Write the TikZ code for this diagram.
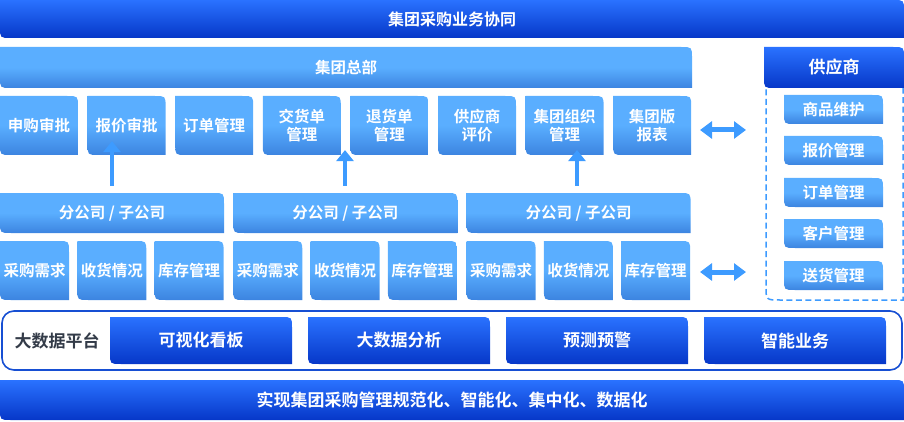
\documentclass[tikz,border=0pt]{standalone}
\usepackage{fontspec}
\setmainfont{Noto Sans CJK SC Bold}
\usetikzlibrary{arrows.meta,calc}
\definecolor{lt}{HTML}{5AAEFF}
\definecolor{lb}{HTML}{3C84E0}
\definecolor{dt}{HTML}{2A72FF}
\definecolor{db}{HTML}{0637C8}
\definecolor{arr}{HTML}{3D9BFF}
\definecolor{lab}{HTML}{333B48}
\tikzset{
  light/.style={top color=lt,bottom color=lb,middle color=lt},
  dark/.style={top color=dt,bottom color=db},
  txt/.style={text=white,font=\fontsize{15.5}{18}\selectfont,align=center,inner sep=0pt},
  uparr/.style={draw=arr,line width=4.5pt,-{Triangle[width=17pt,length=11pt]}},
  dbl/.style={draw=arr,line width=5pt,{Triangle[width=17pt,length=12pt]}-{Triangle[width=17pt,length=12pt]}},
}
\newcommand\bx[7]{%
\path[#6] (#2,#3) -- ({#4-11},#3) .. controls (#4,#3) .. (#4,{#3+11}) -- (#4,#5) -- ({#2+11},#5) .. controls (#2,#5) .. (#2,{#5-11}) -- cycle;
\node[txt] (#1) at ({(#2+#4)/2},{(#3+#5)/2}) {#7};}
\begin{document}
\begin{tikzpicture}[x=1pt,y=-1pt]
\useasboundingbox (0,0) rectangle (904,422);
\bx{title}{0}{0}{904}{38}{dark}{\fontsize{16}{18}\selectfont 集团采购业务协同}
\bx{hq}{0}{47}{692}{88}{light}{集团总部}
\foreach \i/\t in {1/申购审批,2/报价审批,3/订单管理,4/交货单\\管理,5/退货单\\管理,6/供应商\\评价,7/集团组织\\管理,8/集团版\\报表}{
  \pgfmathsetmacro\xa{(\i-1)*87.6}
  \bx{t\i}{\xa}{96}{\xa+78}{155}{light}{\t}
}
\foreach \g in {1,2,3}{
  \pgfmathsetmacro\xa{(\g-1)*233.3}
  \bx{g\g}{\xa}{193}{\xa+224}{233}{light}{分公司 / 子公司}
  \foreach \j/\t in {0/采购需求,1/收货情况,2/库存管理}{
    \pgfmathsetmacro\xb{\xa+\j*77.3}
    \bx{b\g\j}{\xb}{241}{\xb+69}{300}{light}{\t}
  }
}
\coordinate (g1n) at (112,193); \coordinate (g2n) at (345,193); \coordinate (g3n) at (577,193);
\draw[uparr] ($(g1n)+(0,-7)$) -- ($(g1n |- t2.south)+(0,8)$);
\draw[uparr] ($(g2n)+(0,-7)$) -- ($(g2n |- t4.south)+(0,8)$);
\draw[uparr] ($(g3n)+(0,-7)$) -- ($(g3n |- t7.south)+(0,8)$);
% supplier
\draw[arr,line width=1.5pt,dash pattern=on 6pt off 3.5pt] (766,80) -- (766,286) .. controls (766,300) .. (780,300) -- (903,300) -- (903,80);
\bx{sup}{764}{47}{904}{88}{dark}{\fontsize{17}{19}\selectfont 供应商}
\foreach \k/\t/\y in {1/商品维护/95,2/报价管理/136,3/订单管理/178,4/客户管理/219,5/送货管理/261}{
  \bx{s\k}{784}{\y}{883}{\y+29}{light}{\t}
}
\coordinate (da) at (700,130); \coordinate (db) at (746,130);
\draw[dbl] (da) -- (db);
\coordinate (dc) at (700,272); \coordinate (dd) at (746,272);
\draw[dbl] (dc) -- (dd);
% big data
\draw[draw=db!80!lt,line width=1.6pt,rounded corners=12pt] (2,311) rectangle (902,370);
\node[font=\fontsize{17}{19}\selectfont,text=lab] (bd) at (57,341) {大数据平台};
\foreach \k/\t in {0/可视化看板,1/大数据分析,2/预测预警,3/智能业务}{
  \pgfmathsetmacro\xa{110+\k*198}
  \bx{p\k}{\xa}{317}{\xa+182}{364}{dark}{\fontsize{17}{19}\selectfont\t}
}
\bx{goal}{0}{380}{904}{420}{dark}{\fontsize{17}{19}\selectfont 实现集团采购管理规范化、智能化、集中化、数据化}
\end{tikzpicture}
\end{document}
